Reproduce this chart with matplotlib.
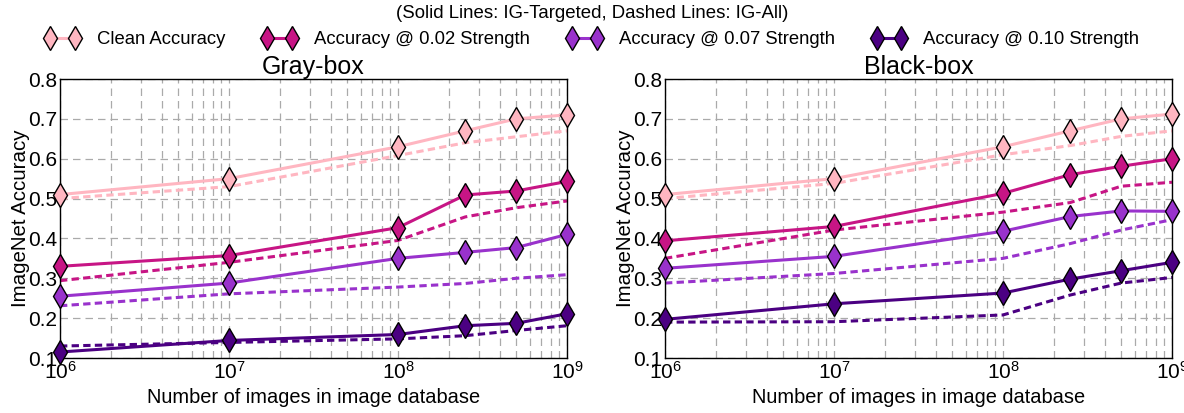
import matplotlib
matplotlib.use("Agg")
import matplotlib.pyplot as plt
from matplotlib.lines import Line2D
import numpy as np

plt.rcParams['font.family'] = ['Liberation Sans', 'DejaVu Sans']

x_vals = [1e6, 1e7, 1e8, 2.5e8, 5e8, 1e9]
series_names = ["Clean Accuracy", "Accuracy @ 0.02 Strength",
                "Accuracy @ 0.07 Strength", "Accuracy @ 0.10 Strength"]
colors = ["#FFB6C1", "#C71585", "#9932CC", "#4B0082"]

# Gray-box
gray_targeted = [
    [0.51, 0.55, 0.63, 0.67, 0.70, 0.71],
    [0.33, 0.357, 0.427, 0.509, 0.519, 0.543],
    [0.255, 0.288, 0.35, 0.365, 0.377, 0.41],
    [0.115, 0.144, 0.159, 0.181, 0.187, 0.211],
]
gray_all = [
    [0.50, 0.53, 0.608, 0.64, 0.655, 0.67],
    [0.294, 0.34, 0.395, 0.454, 0.477, 0.494],
    [0.231, 0.261, 0.278, 0.287, 0.30, 0.309],
    [0.13, 0.139, 0.148, 0.156, 0.169, 0.181],
]
# Black-box
black_targeted = [
    [0.51, 0.55, 0.63, 0.67, 0.70, 0.712],
    [0.394, 0.43, 0.513, 0.56, 0.581, 0.60],
    [0.325, 0.355, 0.418, 0.455, 0.469, 0.468],
    [0.197, 0.236, 0.263, 0.298, 0.319, 0.34],
]
black_all = [
    [0.50, 0.538, 0.61, 0.633, 0.656, 0.67],
    [0.35, 0.421, 0.466, 0.49, 0.531, 0.541],
    [0.288, 0.312, 0.35, 0.387, 0.421, 0.447],
    [0.19, 0.191, 0.208, 0.258, 0.288, 0.302],
]
titles = ["Gray-box", "Black-box"]

W, H = 1184, 413
fig = plt.figure(figsize=(W / 100, H / 100), dpi=100)

axes_px = [(60, 567), (665, 1172)]
y_top, y_bot = 79, 358

LW = 2.2
MS = 12

for i, (targ, allv) in enumerate([(gray_targeted, gray_all), (black_targeted, black_all)]):
    x0, x1 = axes_px[i]
    ax = fig.add_axes([x0 / W, 1 - y_bot / H, (x1 - x0) / W, (y_bot - y_top) / H])
    for k in range(4):
        ax.plot(x_vals, allv[k], color=colors[k], lw=LW, ls=(0, (2.4, 1.4)), zorder=2)
    for k in range(4):
        ax.plot(x_vals, targ[k], color=colors[k], lw=LW, marker='d', markersize=MS,
                markeredgecolor='black', markeredgewidth=1.0, zorder=3, clip_on=False)
    ax.set_xscale('log')
    ax.set_xlim(1e6, 1e9)
    ax.set_ylim(0.1, 0.8)
    ax.set_yticks(np.arange(0.1, 0.81, 0.1))
    ax.set_yticklabels([f"{v:.1f}" for v in np.arange(0.1, 0.81, 0.1)])
    ax.grid(True, which='major', axis='both', color='#aaaaaa', ls=(0, (6, 4)), lw=0.9)
    ax.grid(True, which='minor', axis='x', color='#aaaaaa', ls=(0, (6, 4)), lw=0.9)
    ax.set_axisbelow(True)
    ax.tick_params(which='both', direction='in', length=0, labelsize=15, pad=2, colors='black')
    for s in ax.spines.values():
        s.set_color('black')
        s.set_linewidth(1.0)
    ax.set_xlabel("Number of images in image database", fontsize=14.4, labelpad=4)
    ax.set_ylabel("ImageNet Accuracy", fontsize=14.8, labelpad=-1.5)
    ax.set_title(titles[i], fontsize=18, pad=1)

fig.text(0.5, 1 - 14 / H, "(Solid Lines: IG-Targeted, Dashed Lines: IG-All)",
         ha='center', va='center', fontsize=13.4)
handles = [Line2D([0], [0], color=c, lw=LW, marker='d', markersize=MS,
                  markeredgecolor='black', markeredgewidth=1.0) for c in colors]
fig.legend(handles, series_names, loc='center', bbox_to_anchor=(0.5, 1 - 40 / H),
           ncol=4, frameon=False, fontsize=13.3, numpoints=2, handlelength=1.94,
           handletextpad=0.89, columnspacing=1.97, borderpad=0, borderaxespad=0)

fig.savefig("out.png", dpi=100)
